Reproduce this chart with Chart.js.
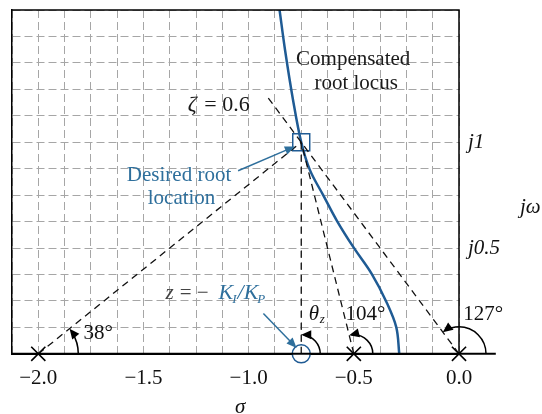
<!DOCTYPE html>
<html>
<head>
<meta charset="utf-8">
<script src="https://cdn.jsdelivr.net/npm/chart.js@4/dist/chart.umd.min.js"></script>
<style>
  body { margin: 0; background: #fff; }
  canvas { display: block; }
</style>
</head>
<body>
<canvas id="locus" width="542" height="414"></canvas>
<script>
// poles / zero / design point (s-plane)
const poles = [-2.0, -0.5, 0.0];
const zeros = [-0.75];
const desiredSigma = [-0.75];
const desiredOmega = [1.0];
// compensated root locus
const locusSigma = [-0.853, -0.827, -0.789, -0.75, -0.708, -0.645, -0.581, -0.502, -0.415, -0.345, -0.298, -0.284];
const locusOmega = [1.625, 1.436, 1.2, 1.0, 0.867, 0.749, 0.630, 0.504, 0.378, 0.245, 0.125, 0.0];
// zeta = 0.6 line runs from origin through the design point up to here
const zetaEnd = [-0.915, 1.22];
const xTickLabels = {'-2': '\u22122.0', '-1.5': '\u22121.5', '-1': '\u22121.0', '-0.5': '\u22120.5', '0': '0.0'};
const yTickLabels = {'0.5': 'j0.5', '1': 'j1'};
const angleLabels = ['38°', '104°', '127°'];

const FONT = 'Liberation Serif';
const BLUE = '#1f5b94';
const TEXTBLUE = '#2e6f9c';

let locusData = [];
for (let i = 0; i < locusSigma.length; i++) {
  locusData.push({x: locusSigma[i], y: locusOmega[i]});
}
const target = {x: desiredSigma[0], y: desiredOmega[0]};

function dashedTo(fromX, extra) {
  let pts = [{x: fromX, y: 0}, target];
  if (extra) pts.push(extra);
  return {
    data: pts, showLine: true, borderColor: '#111', borderWidth: 1.3,
    borderDash: [7, 5], pointRadius: 0, fill: false
  };
}

function arrow(ctx, x1, y1, x2, y2, color, size) {
  let a = Math.atan2(y2 - y1, x2 - x1);
  ctx.strokeStyle = color;
  ctx.fillStyle = color;
  ctx.lineWidth = 1.5;
  ctx.beginPath();
  ctx.moveTo(x1, y1);
  ctx.lineTo(x2 - size * 0.8 * Math.cos(a), y2 - size * 0.8 * Math.sin(a));
  ctx.stroke();
  ctx.beginPath();
  ctx.moveTo(x2, y2);
  ctx.lineTo(x2 - size * Math.cos(a - 0.4), y2 - size * Math.sin(a - 0.4));
  ctx.lineTo(x2 - size * Math.cos(a + 0.4), y2 - size * Math.sin(a + 0.4));
  ctx.closePath();
  ctx.fill();
}

// angle arc from the real axis up to angle a1 (radians), arrow at the end
function angleArc(ctx, cx, cy, r, a1) {
  ctx.strokeStyle = '#000';
  ctx.fillStyle = '#000';
  ctx.lineWidth = 1.5;
  ctx.beginPath();
  ctx.arc(cx, cy, r, 0, -a1 + 0.12, true);
  ctx.stroke();
  let ex = cx + r * Math.cos(a1), ey = cy - r * Math.sin(a1);
  let tx = -Math.sin(a1), ty = -Math.cos(a1);   // ccw tangent in canvas coords
  let nx = Math.cos(a1), ny = -Math.sin(a1);
  let s = 10;
  ctx.beginPath();
  ctx.moveTo(ex, ey);
  ctx.lineTo(ex - tx * s + nx * s * 0.45, ey - ty * s + ny * s * 0.45);
  ctx.lineTo(ex - tx * s - nx * s * 0.45, ey - ty * s - ny * s * 0.45);
  ctx.closePath();
  ctx.fill();
}

const annotate = {
  id: 'annotate',
  afterDatasetsDraw(chart) {
    const ctx = chart.ctx;
    const xs = chart.scales.x, ys = chart.scales.y;
    const px = v => xs.getPixelForValue(v);
    const py = v => ys.getPixelForValue(v);
    ctx.save();
    // frame: top and right (right edge sits on sigma = 0)
    ctx.strokeStyle = '#000';
    ctx.lineWidth = 1.5;
    ctx.beginPath();
    ctx.moveTo(px(xs.min), py(ys.max));
    ctx.lineTo(px(0), py(ys.max));
    ctx.lineTo(px(0), py(0));
    ctx.stroke();

    // angle arcs at poles and zero
    angleArc(ctx, px(poles[0]), py(0), 40, Math.atan2(target.y, target.x - poles[0]));
    angleArc(ctx, px(poles[1]), py(0), 19, Math.atan2(target.y, target.x - poles[1]));
    angleArc(ctx, px(poles[2]), py(0), 27, Math.atan2(target.y, target.x - poles[2]));
    angleArc(ctx, px(zeros[0]), py(0), 19, Math.atan2(target.y, target.x - zeros[0] + 0.0001));

    // blue pointer arrows
    arrow(ctx, px(-1.05), py(0.865), px(-0.78), py(0.98), TEXTBLUE, 11);
    arrow(ctx, px(-0.93), py(0.19), px(-0.772), py(0.028), TEXTBLUE, 11);

    ctx.textBaseline = 'middle';
    ctx.textAlign = 'center';
    ctx.fillStyle = '#1a1a1a';
    ctx.font = '21px "' + FONT + '"';
    ctx.fillText('Compensated', px(-0.503), py(1.389));
    ctx.fillText('root locus', px(-0.489), py(1.28));

    // zeta label
    ctx.textAlign = 'left';
    let zx = px(-1.29);
    ctx.font = 'italic 22px "' + FONT + '"';
    ctx.fillText('\u03b6', zx, py(1.175));
    ctx.font = '22px "' + FONT + '"';
    ctx.fillText(' = 0.6', zx + ctx.measureText('\u03b6').width + 2, py(1.175));

    // desired root label
    ctx.textAlign = 'center';
    ctx.fillStyle = TEXTBLUE;
    ctx.font = '21px "' + FONT + '"';
    ctx.fillText('Desired root', px(-1.331), py(0.844));
    ctx.fillText('location', px(-1.319), py(0.735));

    // z = -K_I/K_P
    ctx.textAlign = 'left';
    let ly = py(0.284);
    let cx = px(-1.395);
    ctx.fillStyle = '#444';
    ctx.font = 'italic 21px "' + FONT + '"';
    ctx.fillText('z', cx, ly);
    cx += ctx.measureText('z').width + 6;
    ctx.font = '21px "' + FONT + '"';
    ctx.fillText('= \u2212', cx, ly);
    cx = px(-1.143);
    ctx.fillStyle = TEXTBLUE;
    ctx.font = 'italic 22px "' + FONT + '"';
    ctx.fillText('K', cx, ly);
    cx += ctx.measureText('K').width - 1;
    ctx.font = 'italic 13px "' + FONT + '"';
    ctx.fillText('I', cx, ly + 6);
    cx += ctx.measureText('I').width + 1;
    ctx.font = 'italic 22px "' + FONT + '"';
    ctx.fillText('/K', cx, ly);
    cx += ctx.measureText('/K').width - 1;
    ctx.font = 'italic 13px "' + FONT + '"';
    ctx.fillText('P', cx, ly + 6);

    // angle labels
    ctx.fillStyle = '#111';
    ctx.font = '21px "' + FONT + '"';
    ctx.textAlign = 'left';
    ctx.fillText(angleLabels[0], px(-1.785), py(0.095));
    ctx.textAlign = 'center';
    ctx.fillText(angleLabels[1], px(-0.445), py(0.185));
    ctx.fillText(angleLabels[2], px(0.115), py(0.185));
    ctx.font = 'italic 21px "' + FONT + '"';
    ctx.fillText('\u03b8', px(-0.69), py(0.185));
    ctx.font = 'italic 13px "' + FONT + '"';
    ctx.fillText('z', px(-0.65), py(0.16));

    // imaginary axis marks
    ctx.font = 'italic 21px "' + FONT + '"';
    ctx.textAlign = 'left';
    for (const k in yTickLabels) {
      ctx.fillText(yTickLabels[k], px(0) + 9, py(parseFloat(k)));
    }
    ctx.fillText('j\u03c9', px(0) + 61, py(0.69));
    ctx.textAlign = 'center';
    ctx.fillText('\u03c3', px(-1.04), 407);
    ctx.restore();
  }
};

new Chart(document.getElementById('locus'), {
  type: 'scatter',
  data: {
    datasets: [
      {
        // extended real axis, runs past the frame on the right
        data: [{x: -2.125, y: 0}, {x: 0.175, y: 0}], showLine: true,
        borderColor: '#000', borderWidth: 2, pointRadius: 0, clip: false
      },
      dashedTo(poles[0]),
      dashedTo(poles[1]),
      dashedTo(poles[2], {x: zetaEnd[0], y: zetaEnd[1]}),
      dashedTo(zeros[0]),
      {
        data: locusData, showLine: true, borderColor: BLUE, borderWidth: 2.5,
        pointRadius: 0, tension: 0.35, fill: false
      },
      {
        data: poles.map(p => ({x: p, y: 0})), pointStyle: 'crossRot',
        pointRadius: 10, borderColor: '#000', borderWidth: 1.6, clip: false
      },
      {
        data: zeros.map(z => ({x: z, y: 0})), pointStyle: 'circle',
        pointRadius: 9, borderColor: BLUE, backgroundColor: '#fff', borderWidth: 1.5, clip: false
      },
      {
        data: [target], pointStyle: 'rect',
        pointRadius: 12, borderColor: BLUE, backgroundColor: '#fff', borderWidth: 1.5
      }
    ]
  },
  options: {
    responsive: false,
    animation: false,
    events: [],
    layout: {autoPadding: false, padding: {left: 11, right: 83, top: 10, bottom: 11}},
    plugins: {legend: {display: false}, tooltip: {enabled: false}},
    scales: {
      x: {
        type: 'linear', min: -2.125, max: 0,
        ticks: {
          stepSize: 0.125, autoSkip: false, maxRotation: 0, padding: 12, color: '#111',
          font: {family: FONT, size: 21},
          callback: function(v) {
            let k = String(Math.round(v * 1000) / 1000);
            return xTickLabels[k] !== undefined ? xTickLabels[k] : '';
          }
        },
        grid: {color: '#a6a6a6', lineWidth: 1, drawTicks: false},
        border: {display: true, color: '#000', width: 2, dash: [8, 4]}
      },
      y: {
        type: 'linear', min: 0, max: 1.625,
        ticks: {stepSize: 0.125, display: false},
        grid: {color: '#a6a6a6', lineWidth: 1, drawTicks: false},
        border: {display: true, color: '#000', width: 1.5, dash: [8, 4]}
      }
    }
  },
  plugins: [annotate]
});
</script>
</body>
</html>
